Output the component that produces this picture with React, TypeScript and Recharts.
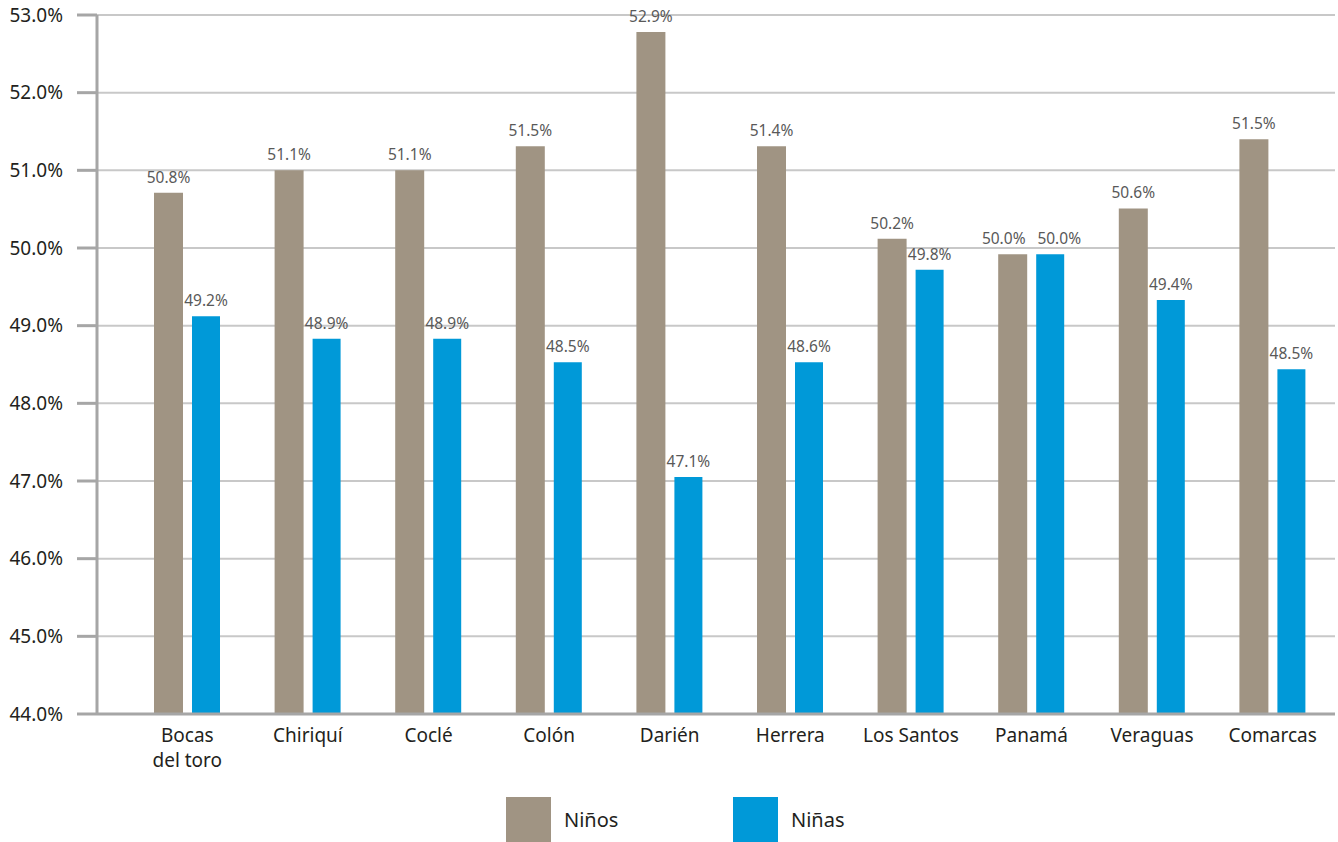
import React from 'react';
import { BarChart, Bar, XAxis, YAxis, CartesianGrid, Legend, LabelList } from 'recharts';

const categories = [
  'Bocas\ndel toro', 'Chiriquí', 'Coclé', 'Colón', 'Darién',
  'Herrera', 'Los Santos', 'Panamá', 'Veraguas', 'Comarcas',
];
// bar heights as drawn in the picture
const ninos = [50.71, 51.0, 51.0, 51.31, 52.78, 51.31, 50.12, 49.92, 50.51, 51.4];
const ninas = [49.12, 48.83, 48.83, 48.53, 47.05, 48.53, 49.72, 49.92, 49.33, 48.44];
// value labels as printed above the bars
const ninosLabels = ['50.8%', '51.1%', '51.1%', '51.5%', '52.9%', '51.4%', '50.2%', '50.0%', '50.6%', '51.5%'];
const ninasLabels = ['49.2%', '48.9%', '48.9%', '48.5%', '47.1%', '48.6%', '49.8%', '50.0%', '49.4%', '48.5%'];
const yTicks = [44, 45, 46, 47, 48, 49, 50, 51, 52, 53];

const NINOS_COLOR = '#a09483';
const NINAS_COLOR = '#0099d8';
const FONT = '"Noto Sans", sans-serif';

const data = categories.map((name, i) => ({
  name,
  ninos: ninos[i],
  ninas: ninas[i],
  ninosLabel: ninosLabels[i],
  ninasLabel: ninasLabels[i],
}));

// when both bars of a group are about as tall, push their labels apart
const labelShift = (index: number, side: -1 | 1) => {
  if (index == null) return 0;
  const close = Math.abs(ninos[index] - ninas[index]) < 0.25;
  return close ? side * 9 : 0;
};

const makeValueLabel = (side: -1 | 1) => (props: any) => {
  const { x, y, width, value, index } = props;
  const cx = Number(x) + Number(width) / 2 + labelShift(index, side);
  return (
    <text x={cx} y={Number(y) - 10} textAnchor="middle" fill="#595959" fontSize={15.5} fontFamily={FONT}>
      {value}
    </text>
  );
};

const CategoryTick = (props: any) => {
  const { x, y, payload } = props;
  const lines = String(payload.value).split('\n');
  return (
    <text x={x} y={y} textAnchor="middle" fill="#231f20" fontSize={19} fontFamily={FONT}>
      {lines.map((line, i) => (
        <tspan key={i} x={x} dy={i === 0 ? 28 : 25}>{line}</tspan>
      ))}
    </text>
  );
};

const LegendBox = () => {
  const items = [
    { label: 'Niños', color: NINOS_COLOR, width: 227 },
    { label: 'Niñas', color: NINAS_COLOR, width: 150 },
  ];
  return (
    <div style={{ height: 60, paddingTop: 14, paddingLeft: 506, display: 'flex', boxSizing: 'border-box' }}>
      {items.map((it) => (
        <div key={it.label} style={{ width: it.width, display: 'flex', alignItems: 'center' }}>
          <div style={{ width: 45, height: 45, background: it.color }} />
          <span style={{ marginLeft: 13, fontSize: 20, fontFamily: FONT, color: '#231f20' }}>{it.label}</span>
        </div>
      ))}
    </div>
  );
};

export default function App() {
  return (
    <div style={{ position: 'absolute', left: 0, top: 0, width: 1338, height: 842, background: '#fff' }}>
      <BarChart
        width={1338}
        height={842}
        data={data}
        margin={{ top: 15, right: 3, left: 0, bottom: 0 }}
        barGap={9}
      >
        <CartesianGrid horizontal vertical={false} stroke="#c8c8c8" strokeWidth={2} />
        <XAxis
          dataKey="name"
          height={68}
          padding={{ left: 30, right: 2 }}
          tickLine={false}
          tickSize={0}
          tickMargin={0}
          axisLine={{ stroke: '#a6a6a6', strokeWidth: 3 }}
          tick={<CategoryTick />}
          interval={0}
        />
        <YAxis
          width={97}
          domain={[44, 53]}
          ticks={yTicks}
          interval={0}
          allowDataOverflow
          tickFormatter={(v: number) => `${v.toFixed(1)}%`}
          tickSize={20}
          tickMargin={14}
          tickLine={{ stroke: '#a6a6a6', strokeWidth: 3 }}
          axisLine={{ stroke: '#a6a6a6', strokeWidth: 3 }}
          tick={{ fill: '#231f20', fontSize: 19, fontFamily: FONT }}
        />
        <Legend verticalAlign="bottom" height={60} content={<LegendBox />} />
        <Bar dataKey="ninos" name="Niños" fill={NINOS_COLOR} barSize={29} isAnimationActive={false}>
          <LabelList dataKey="ninosLabel" content={makeValueLabel(-1)} />
        </Bar>
        <Bar dataKey="ninas" name="Niñas" fill={NINAS_COLOR} barSize={28} isAnimationActive={false}>
          <LabelList dataKey="ninasLabel" content={makeValueLabel(1)} />
        </Bar>
      </BarChart>
    </div>
  );
}
